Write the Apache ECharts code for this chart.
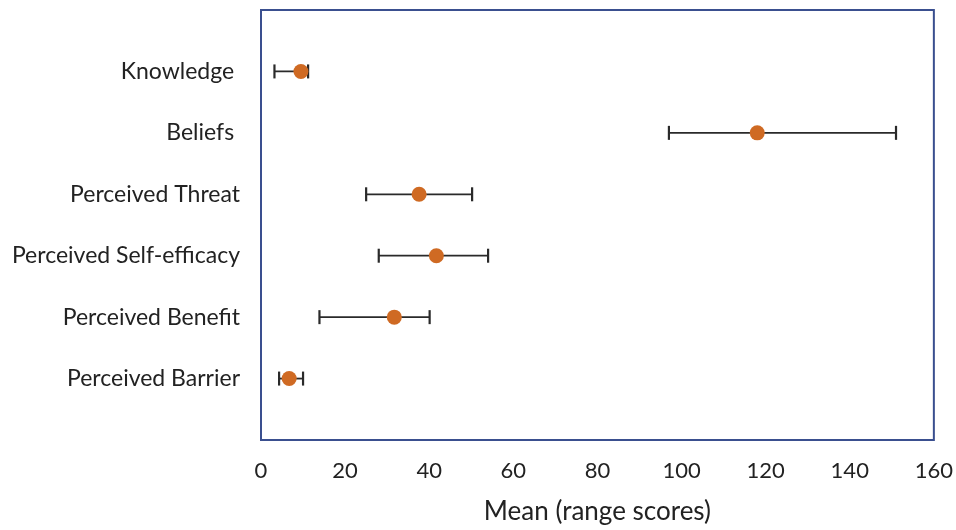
<!DOCTYPE html>
<html>
<head>
<meta charset="utf-8">
<script src="https://cdn.jsdelivr.net/npm/echarts@6/dist/echarts.min.js"></script>
<style>html,body{margin:0;padding:0;background:#fff}#c{width:956px;height:530px}</style>
</head>
<body>
<div id="c"></div>
<script>
var categories = ['Knowledge ', 'Beliefs ', 'Perceived Threat', 'Perceived Self-efficacy', 'Perceived Benefit', 'Perceived Barrier'];
var means = [9.5, 118.0, 37.6, 41.7, 31.7, 6.7];
var lows = [3.2, 97.0, 25.0, 28.0, 13.9, 4.3];
var highs = [11.2, 151.0, 50.2, 54.0, 40.1, 10.0];
var xTicks = [0, 20, 40, 60, 80, 100, 120, 140, 160];

var FONT = 'Lato';
var errData = categories.map(function (c, i) { return [i + 1, lows[i], highs[i]]; });
var meanData = categories.map(function (c, i) { return [means[i], i + 1]; });

var chart = echarts.init(document.getElementById('c'), null, {renderer: 'canvas'});
chart.setOption({
  animation: false,
  grid: {left: 261, right: 19, top: 10, bottom: 87, show: true, borderColor: '#3a4f8f', borderWidth: 2, backgroundColor: 'transparent'},
  xAxis: {
    type: 'value', min: 0, max: 160, interval: 20,
    name: 'Mean (range scores)', nameLocation: 'middle', nameGap: 59,
    nameTextStyle: {fontFamily: FONT, fontSize: 26, color: '#222'},
    axisLine: {show: false}, axisTick: {show: false}, splitLine: {show: false},
    axisLabel: {fontFamily: FONT, fontSize: 22, color: '#222', margin: 20,
      formatter: function (v) { return xTicks.indexOf(v) >= 0 ? String(v) : ''; }}
  },
  yAxis: {
    type: 'value', min: 0, max: 7, interval: 1, inverse: true,
    axisLine: {show: false}, axisTick: {show: false}, splitLine: {show: false},
    axisLabel: {fontFamily: FONT, fontSize: 23, color: '#222', margin: 21,
      formatter: function (v) { return categories[v - 1] || ''; }}
  },
  series: [
    {
      type: 'custom',
      data: errData,
      encode: {x: [1, 2], y: 0},
      renderItem: function (params, api) {
        var y = api.value(0);
        var p1 = api.coord([api.value(1), y]);
        var p2 = api.coord([api.value(2), y]);
        var h = 7;
        var st = {stroke: '#2a2a2a', lineWidth: 1.8};
        return {type: 'group', children: [
          {type: 'line', shape: {x1: p1[0], y1: p1[1], x2: p2[0], y2: p2[1]}, style: st},
          {type: 'line', shape: {x1: p1[0], y1: p1[1] - h, x2: p1[0], y2: p1[1] + h}, style: {stroke: '#2a2a2a', lineWidth: 2.2}},
          {type: 'line', shape: {x1: p2[0], y1: p2[1] - h, x2: p2[0], y2: p2[1] + h}, style: {stroke: '#2a2a2a', lineWidth: 2.2}}
        ]};
      },
      z: 2
    },
    {
      type: 'scatter',
      data: meanData,
      symbol: 'circle', symbolSize: 15,
      itemStyle: {color: '#cf6a23', opacity: 1},
      z: 3
    }
  ]
});
</script>
</body>
</html>
